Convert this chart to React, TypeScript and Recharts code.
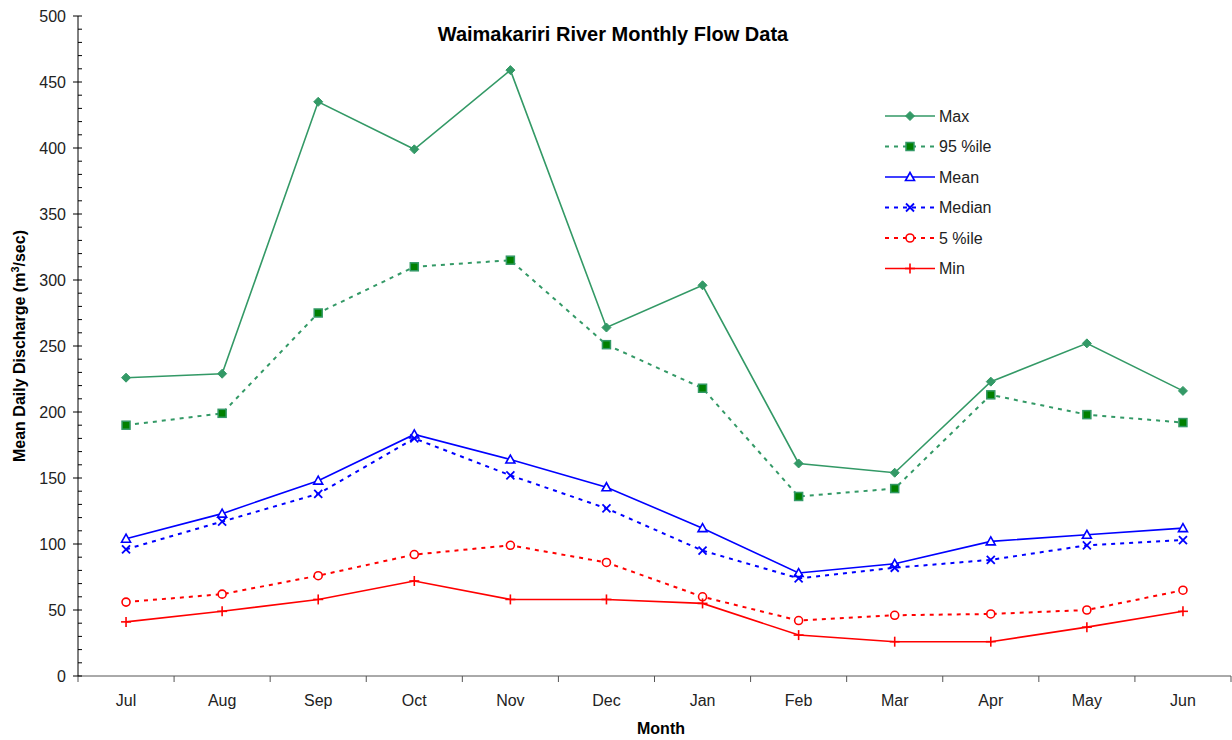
import React from 'react';
import { Legend, Line, LineChart, XAxis, YAxis } from 'recharts';

document.body.style.margin = '0';

const months = ['Jul', 'Aug', 'Sep', 'Oct', 'Nov', 'Dec', 'Jan', 'Feb', 'Mar', 'Apr', 'May', 'Jun'];
const maxFlow = [226, 229, 435, 399, 459, 264, 296, 161, 154, 223, 252, 216];
const p95Flow = [190, 199, 275, 310, 315, 251, 218, 136, 142, 213, 198, 192];
const meanFlow = [104, 123, 148, 183, 164, 143, 112, 78, 85, 102, 107, 112];
const medianFlow = [96, 117, 138, 180, 152, 127, 95, 74, 82, 88, 99, 103];
const p5Flow = [56, 62, 76, 92, 99, 86, 60, 42, 46, 47, 50, 65];
const minFlow = [41, 49, 58, 72, 58, 58, 55, 31, 26, 26, 37, 49];

const data = months.map((m, i) => ({
  month: m,
  max: maxFlow[i],
  p95: p95Flow[i],
  mean: meanFlow[i],
  median: medianFlow[i],
  p5: p5Flow[i],
  min: minFlow[i],
}));

// every 10 units: minor ticks, labels only on multiples of 50
const allTicks: number[] = [];
for (let v = 0; v <= 500; v += 10) allTicks.push(v);

const W = 1232;
const H = 740;
const LEFT = 78;
const RIGHT = 1;
const TOP = 16;
const XAXIS_H = 64;
const BAND = (W - LEFT - RIGHT) / months.length;
const FONT = '"Liberation Sans", Arial, sans-serif';

const GREEN = '#339966';
const DKGREEN = '#008000';
const BLUE = '#0000ff';
const RED = '#ff0000';

type Marker = 'diamond' | 'square' | 'triangle' | 'cross' | 'circle' | 'plus';

function MarkerShape({ kind, cx, cy, color }: { kind: Marker; cx: number; cy: number; color: string }) {
  switch (kind) {
    case 'diamond':
      return <polygon points={`${cx},${cy - 4.5} ${cx + 4.5},${cy} ${cx},${cy + 4.5} ${cx - 4.5},${cy}`} fill={color} stroke={color} strokeWidth={1} />;
    case 'square':
      return <rect x={cx - 4} y={cy - 4} width={8} height={8} fill={DKGREEN} stroke={GREEN} strokeWidth={1.5} />;
    case 'triangle':
      return <polygon points={`${cx},${cy - 4.5} ${cx + 4.5},${cy + 3.5} ${cx - 4.5},${cy + 3.5}`} fill="#fff" stroke={color} strokeWidth={1.6} />;
    case 'cross':
      return (
        <g stroke={color} strokeWidth={1.8}>
          <line x1={cx - 4} y1={cy - 4} x2={cx + 4} y2={cy + 4} />
          <line x1={cx - 4} y1={cy + 4} x2={cx + 4} y2={cy - 4} />
        </g>
      );
    case 'circle':
      return <circle cx={cx} cy={cy} r={4} fill="#fff" stroke={color} strokeWidth={1.6} />;
    case 'plus':
      return (
        <g stroke={color} strokeWidth={1.6}>
          <line x1={cx - 5} y1={cy} x2={cx + 5} y2={cy} />
          <line x1={cx} y1={cy - 5} x2={cx} y2={cy + 5} />
        </g>
      );
  }
  return null;
}

const series: { key: string; name: string; color: string; dash?: string; marker: Marker }[] = [
  { key: 'max', name: 'Max', color: GREEN, marker: 'diamond' },
  { key: 'p95', name: '95 %ile', color: GREEN, dash: '4 5', marker: 'square' },
  { key: 'mean', name: 'Mean', color: BLUE, marker: 'triangle' },
  { key: 'median', name: 'Median', color: BLUE, dash: '4 5', marker: 'cross' },
  { key: 'p5', name: '5 %ile', color: RED, dash: '4 5', marker: 'circle' },
  { key: 'min', name: 'Min', color: RED, marker: 'plus' },
];

function YTick(props: any) {
  const { x, y, payload } = props;
  const v = payload.value as number;
  const major = v % 50 === 0;
  return (
    <g>
      <line x1={major ? x - 5 : x} y1={y} x2={x + 4} y2={y} stroke="#000" strokeWidth={1} />
      {major && (
        <text x={x - 12} y={y + 5.5} textAnchor="end" fontSize={16} fontFamily={FONT} fill="#222">
          {v}
        </text>
      )}
    </g>
  );
}

function XTick(props: any) {
  const { x, y, payload, index } = props;
  const left = x - BAND / 2;
  return (
    <g>
      <line x1={left} y1={y} x2={left} y2={y + 6} stroke="#555" strokeWidth={1} />
      {index === months.length - 1 && (
        <line x1={x + BAND / 2} y1={y} x2={x + BAND / 2} y2={y + 6} stroke="#555" strokeWidth={1} />
      )}
      <text x={x} y={y + 30} textAnchor="middle" fontSize={16} fontFamily={FONT} fill="#222">
        {payload.value}
      </text>
    </g>
  );
}

function LegendBox() {
  return (
    <svg width={130} height={190} style={{ display: 'block' }}>
      {series.map((s, i) => {
        const cy = 11 + i * 30.5;
        return (
          <g key={s.key}>
            <line x1={0} y1={cy} x2={50} y2={cy} stroke={s.color} strokeWidth={s.dash ? 2 : 1.6} strokeDasharray={s.dash} />
            <MarkerShape kind={s.marker} cx={25} cy={cy} color={s.color} />
            <text x={54} y={cy + 5.5} fontSize={16} fontFamily={FONT} fill="#222">
              {s.name}
            </text>
          </g>
        );
      })}
    </svg>
  );
}

export default function App() {
  return (
    <div style={{ position: 'relative', width: W, height: H, background: '#fff' }}>
      <LineChart width={W} height={H} data={data} margin={{ top: TOP, right: RIGHT, bottom: 0, left: 0 }}>
        <XAxis
          dataKey="month"
          height={XAXIS_H}
          stroke="#555"
          padding={{ left: BAND / 2, right: BAND / 2 }}
          tickLine={false}
          tickSize={0}
          tickMargin={0}
          tick={<XTick />}
          interval={0}
        />
        <YAxis
          width={LEFT}
          domain={[0, 500]}
          ticks={allTicks}
          interval={0}
          stroke="#000"
          tickLine={false}
          tickSize={0}
          tickMargin={0}
          tick={<YTick />}
        />
        <Legend
          layout="horizontal"
          verticalAlign="middle"
          align="center"
          content={() => <LegendBox />}
          wrapperStyle={{ position: 'absolute', left: 885, top: 105, width: 130 }}
        />
        {series.map((s) => (
          <Line
            key={s.key}
            dataKey={s.key}
            name={s.name}
            type="linear"
            stroke={s.color}
            strokeWidth={s.dash ? 2 : 1.6}
            strokeDasharray={s.dash}
            isAnimationActive={false}
            activeDot={false}
            dot={(p: any) => <MarkerShape key={`${s.key}-${p.index}`} kind={s.marker} cx={p.cx} cy={p.cy} color={s.color} />}
          />
        ))}
      </LineChart>
      <svg width={W} height={H} style={{ position: 'absolute', left: 0, top: 0, pointerEvents: 'none' }}>
        <text x={613} y={41} textAnchor="middle" fontSize={20} fontWeight="bold" fontFamily={FONT} fill="#000">
          Waimakariri River Monthly Flow Data
        </text>
        <text x={661} y={734} textAnchor="middle" fontSize={16} fontWeight="bold" fontFamily={FONT} fill="#000">
          Month
        </text>
        <text
          transform="translate(25,346) rotate(-90)"
          textAnchor="middle"
          fontSize={16}
          fontWeight="bold"
          fontFamily={FONT}
          fill="#000"
        >
          Mean Daily Discharge (m
          <tspan fontSize={11} dy={-6}>3</tspan>
          <tspan dy={6}>/sec)</tspan>
        </text>
      </svg>
    </div>
  );
}
